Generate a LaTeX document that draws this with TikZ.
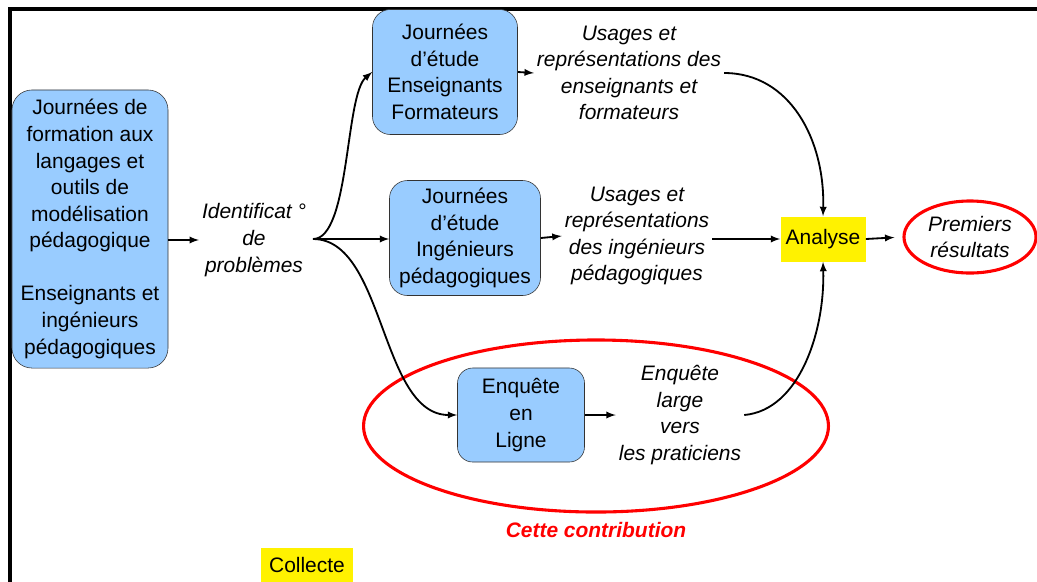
\documentclass[tikz,border=0pt]{standalone}
\usepackage{fontspec}
\setmainfont{Liberation Sans}
\usetikzlibrary{shapes.geometric}

\definecolor{boxblue}{RGB}{153,204,255}
\newcommand\diagfont{\fontsize{14.9}{18.9}\selectfont}

\tikzset{
	box/.style={draw=black!80, fill=boxblue, rounded corners=0.45cm, align=center, inner sep=0pt},
	note/.style={align=center, font=\diagfont\itshape, inner sep=2pt},
	hilite/.style={fill=yellow, inner sep=0pt},
	flow/.style={->, line width=1.3pt},
	>=latex
}

\begin{document}
\begin{tikzpicture}[x=0.025cm, y=-0.025cm, font=\diagfont]
	\useasboundingbox (0,0) rectangle (1037,581);

	% The frame, cut by the page
	\draw[line width=2.2pt] (10,600) -- (10,9) -- (1060,9);

	% The part that is this contribution
	\node[draw=red, line width=2.2pt, ellipse, minimum width=11.62cm, minimum height=4.3cm] (contrib) at (596,426) {};
	\node[text=red, font=\diagfont\bfseries\itshape] (contribtxt) at (596,530) {Cette contribution};

	% Training days on the left
	\node[box, minimum width=3.9cm, minimum height=6.95cm, rounded corners=0.5cm] (form) at (90,229)
		{Journées de\\formation aux\\langages et\\outils de\\modélisation\\pédagogique\\[\baselineskip]Enseignants et\\ingénieurs\\pédagogiques};
	\node[note] (ident) at (254,240) {Identificat °\\de\\problèmes};
	\coordinate (split) at (313,239);

	% The three ways of collecting
	\node[box, minimum width=3.625cm, minimum height=3.125cm] (jeE) at (445,72) {Journées\\d’étude\\Enseignants\\Formateurs};
	\node[note] (usE) at (629,73) {Usages et\\représentations des\\enseignants et\\formateurs};

	\node[box, minimum width=3.775cm, minimum height=2.875cm] (jeI) at (465,238) {Journées\\d’étude\\Ingénieurs\\pédagogiques};
	\node[note] (usI) at (637,236) {Usages et\\représentations\\des ingénieurs\\pédagogiques};

	\node[box, minimum width=3.175cm, minimum height=2.35cm, rounded corners=0.38cm] (enq) at (521,415) {Enquête\\en\\Ligne};
	\node[note] (enqT) at (680,415) {Enquête\\large\\vers\\les praticiens};

	% Analysis and results
	\node[hilite, minimum width=2.125cm, minimum height=1.125cm] (ana) at (823,239) {Analyse};
	\node[note, draw=red, line width=2.2pt, ellipse, minimum width=3.3cm, minimum height=1.8cm, inner sep=0pt] (res) at (970,237) {Premiers\\résultats};
	\node[hilite, minimum width=2.275cm, minimum height=0.85cm] (coll) at (307,565) {Collecte};

	% Connectors
	\draw[flow] (ident.west -| form.east) -- (ident.west);
	\draw[flow] (split) .. controls (350,239) and (345,95) .. (jeE.west);
	\draw[flow] (split) -- (split -| jeI.west);
	\draw[flow] (split) .. controls (385,239) and (380,415) .. (enq.west);
	\draw[flow] (jeE.east) -- (usE.west);
	\draw[flow] (jeI.east) -- (usI.west);
	\draw[flow] (enq.east) -- (enqT.west);
	\draw[flow] (usE.east) .. controls (790,73) and (825,140) .. (ana.north);
	\draw[flow] (usI.east |- ana.west) -- (ana.west);
	\draw[flow] (enqT.east) .. controls (800,410) and (825,330) .. (ana.south);
	\draw[flow, shorten >=0.2cm] (ana.east) -- (res.west);
\end{tikzpicture}
\end{document}
